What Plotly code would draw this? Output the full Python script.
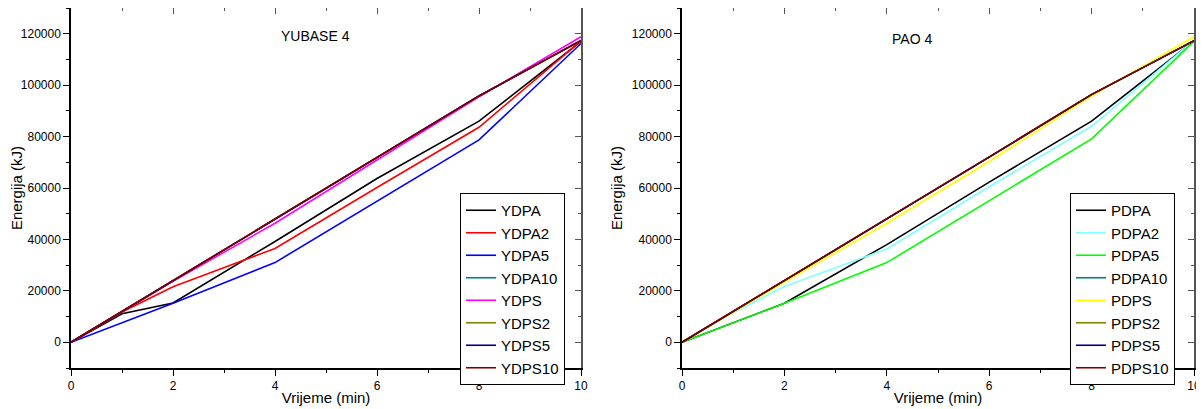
import plotly.graph_objects as go

x_vals = [0, 1, 2, 4, 6, 8, 10]

# YUBASE 4
y_names = ["YDPA", "YDPA2", "YDPA5", "YDPA10", "YDPS", "YDPS2", "YDPS5", "YDPS10"]
ydpa = [0, 11100, 15300, 39200, 63700, 86000, 117000]
ydpa2 = [0, 11800, 21600, 36500, 60200, 83600, 117200]
ydpa5 = [0, 7600, 15200, 31000, 55000, 78700, 116200]
ydpa10 = [0, 12000, 24000, 47800, 72000, 95800, 117400]
ydps = [0, 11900, 23700, 46300, 70800, 95500, 118800]
ydps2 = [0, 12000, 24000, 47800, 72000, 95800, 117400]
ydps5 = [0, 12000, 24000, 47800, 72000, 95800, 117400]
ydps10 = [0, 12000, 24100, 47900, 72000, 95800, 117300]

# PAO 4
p_names = ["PDPA", "PDPA2", "PDPA5", "PDPA10", "PDPS", "PDPS2", "PDPS5", "PDPS10"]
pdpa = [0, 7600, 15200, 38000, 62300, 86000, 117200]
pdpa2 = [0, 11500, 21700, 36300, 60500, 84000, 117400]
pdpa5 = [0, 7600, 15200, 31000, 55000, 79100, 117000]
pdpa10 = [0, 12000, 24000, 47900, 72000, 96300, 117300]
pdps = [0, 11800, 23400, 46300, 70300, 95800, 118800]
pdps2 = [0, 12000, 24000, 47900, 72000, 96300, 117300]
pdps5 = [0, 12000, 24000, 47900, 72000, 96300, 117300]
pdps10 = [0, 12000, 24100, 48000, 72100, 96400, 117200]

y_series = [ydpa, ydpa2, ydpa5, ydpa10, ydps, ydps2, ydps5, ydps10]
p_series = [pdpa, pdpa2, pdpa5, pdpa10, pdps, pdps2, pdps5, pdps10]
y_colors = ["#000000", "#ff0000", "#0000ff", "#008080", "#ff00ff", "#808000", "#000080", "#800000"]
p_colors = ["#000000", "#80ffff", "#00ff00", "#008080", "#ffff00", "#808000", "#000080", "#800000"]

x_ticks = [0, 2, 4, 6, 8, 10]
y_ticks = [0, 20000, 40000, 60000, 80000, 100000, 120000]

FONT = "Liberation Sans, Arial, sans-serif"
fig = go.Figure()

for name, vals, col in zip(y_names, y_series, y_colors):
    fig.add_trace(go.Scatter(x=x_vals, y=vals, name=name, mode="lines",
                             line=dict(color=col, width=1.6),
                             xaxis="x", yaxis="y", legend="legend"))
for name, vals, col in zip(p_names, p_series, p_colors):
    fig.add_trace(go.Scatter(x=x_vals, y=vals, name=name, mode="lines",
                             line=dict(color=col, width=1.6),
                             xaxis="x2", yaxis="y2", legend="legend2"))
# dummy traces for mirror axes
for xa_, ya_ in [("x3", "y3"), ("x4", "y4")]:
    fig.add_trace(go.Scatter(x=[None], y=[None], xaxis=xa_, yaxis=ya_, showlegend=False, hoverinfo="skip"))

# page body has an 8px margin, so the figure is offset by 8px
OFF = 8
W, H = 1204 - OFF, 409 - OFF

def px_x(p):
    return (p - OFF) / W

def px_y(p):
    return 1 - (p - OFF) / H

xr = [0, 10]
yr = [-10000, 130000]
ydom = [px_y(368), px_y(8)]
ldom = [px_x(71), px_x(581)]
rdom = [px_x(682), px_x(1194)]

def xa(domain, anchor, title):
    return dict(domain=domain, anchor=anchor, range=xr, tickvals=x_ticks, automargin=False,
                ticks="outside", ticklen=6, tickwidth=1.2, tickcolor="#000",
                minor=dict(dtick=1, tick0=0, ticks="outside", ticklen=3, tickcolor="#000", tickwidth=1.2),
                showline=True, linecolor="#000", linewidth=1.5, showgrid=False, zeroline=False,
                tickfont=dict(family=FONT, size=12, color="#000"),
                title=dict(text=title, font=dict(family=FONT, size=15, color="#000"), standoff=0))

def ya(anchor, title):
    return dict(domain=ydom, anchor=anchor, range=yr, tickvals=y_ticks, tickformat="d", automargin=False,
                ticks="outside", ticklen=6, tickwidth=1.2, tickcolor="#000",
                minor=dict(dtick=10000, tick0=0, ticks="outside", ticklen=3, tickcolor="#000", tickwidth=1.2),
                showline=True, linecolor="#000", linewidth=1.5, showgrid=False, zeroline=False,
                tickfont=dict(family=FONT, size=12, color="#000"),
                title=dict(text=title, font=dict(family=FONT, size=15, color="#000"), standoff=6))

def xmir(over, anchor):
    return dict(overlaying=over, anchor=anchor, side="top", range=xr, tickvals=x_ticks, automargin=False,
                ticks="inside", ticklen=6, tickwidth=1.2, tickcolor="#555",
                minor=dict(dtick=1, tick0=0, ticks="inside", ticklen=3, tickcolor="#555", tickwidth=1.2),
                showline=True, linecolor="#555", linewidth=1.5, showgrid=False, zeroline=False,
                showticklabels=False)

def ymir(over, anchor):
    return dict(overlaying=over, anchor=anchor, side="right", range=yr, tickvals=y_ticks, automargin=False,
                ticks="inside", ticklen=6, tickwidth=1.2, tickcolor="#555",
                minor=dict(dtick=10000, tick0=0, ticks="inside", ticklen=3, tickcolor="#555", tickwidth=1.2),
                showline=True, linecolor="#555", linewidth=1.5, showgrid=False, zeroline=False,
                showticklabels=False)

legend_common = dict(bgcolor="#fff", bordercolor="#000", borderwidth=1,
                     font=dict(family=FONT, size=15, color="#000"),
                     xanchor="left", yanchor="top", tracegroupgap=0, itemwidth=30)

fig.update_layout(
    width=W, height=H, margin=dict(l=0, r=0, t=0, b=0, autoexpand=False),
    paper_bgcolor="#fff", plot_bgcolor="#fff",
    xaxis=xa(ldom, "y", "Vrijeme (min)"),
    yaxis=ya("x", "Energija (kJ)"),
    xaxis2=xa(rdom, "y2", "Vrijeme (min)"),
    yaxis2=ya("x2", "Energija (kJ)"),
    xaxis3=xmir("x", "y"),
    yaxis3=ymir("y", "x"),
    xaxis4=xmir("x2", "y2"),
    yaxis4=ymir("y2", "x2"),
    legend=dict(x=px_x(460), y=px_y(193), **legend_common),
    legend2=dict(x=px_x(1070), y=px_y(193), **legend_common),
    annotations=[
        dict(text="YUBASE 4", x=4.8, y=119000, xref="x", yref="y", showarrow=False,
             font=dict(family=FONT, size=14, color="#000")),
        dict(text="PAO 4", x=4.5, y=118000, xref="x2", yref="y2", showarrow=False,
             font=dict(family=FONT, size=14, color="#000")),
    ],
    showlegend=True,
)

fig.write_html("out.html")
